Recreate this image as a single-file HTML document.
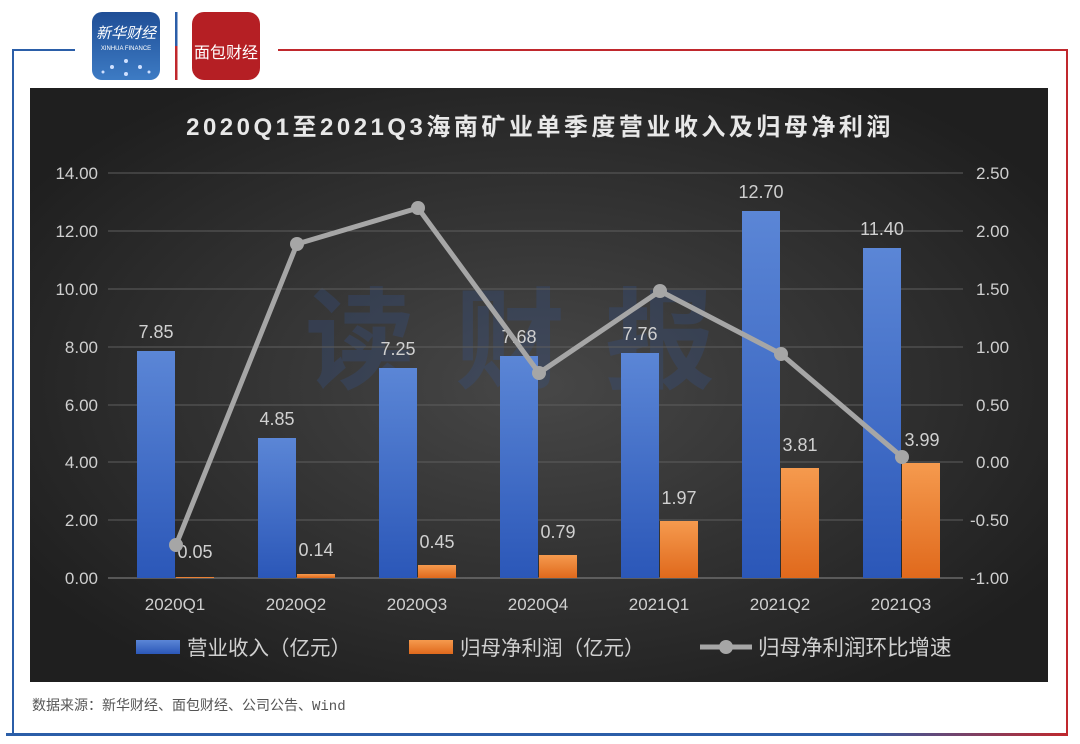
<!DOCTYPE html>
<html><head><meta charset="utf-8"><style>
body{margin:0;width:1080px;height:744px;background:#fff;overflow:hidden}
svg{display:block}
</style></head><body>
<svg width="1080" height="744" viewBox="0 0 1080 744" xmlns="http://www.w3.org/2000/svg" font-family="Liberation Sans, Noto Sans CJK SC, sans-serif">
<defs>
<radialGradient id="bg" cx="50%" cy="50%" r="60%"><stop offset="0" stop-color="#474747"/><stop offset="1" stop-color="#1f1f1f"/></radialGradient>
<linearGradient id="bb" x1="0" y1="0" x2="0" y2="1"><stop offset="0" stop-color="#5b86d6"/><stop offset="1" stop-color="#2b57b8"/></linearGradient>
<linearGradient id="ob" x1="0" y1="0" x2="0" y2="1"><stop offset="0" stop-color="#f59a4e"/><stop offset="1" stop-color="#e0691c"/></linearGradient>
<linearGradient id="bot" x1="0" x2="1"><stop offset="0" stop-color="#2b5ea8"/><stop offset="0.8" stop-color="#2b5ea8"/><stop offset="1" stop-color="#c0282d"/></linearGradient>
<linearGradient id="xh" x1="0" y1="0" x2="0" y2="1"><stop offset="0" stop-color="#1f4e96"/><stop offset="1" stop-color="#3d7bc4"/></linearGradient>
</defs>
<path d="M75 50 H13 V735" stroke="#2b5ea8" stroke-width="2" fill="none"/>
<path d="M278 50 H1067 V735" stroke="#c0282d" stroke-width="2" fill="none"/>
<rect x="6" y="733" width="1062" height="3" fill="url(#bot)"/>
<rect x="92" y="12" width="68" height="68" rx="10" fill="url(#xh)"/>
<text x="126" y="38" fill="#fff" font-size="15" text-anchor="middle" font-style="italic">新华财经</text>
<text x="126" y="50" fill="#fff" font-size="6" text-anchor="middle">XINHUA FINANCE</text>
<g fill="#cfe0ff"><circle cx="112" cy="67" r="2"/><circle cx="126" cy="61" r="2"/><circle cx="140" cy="67" r="2"/><circle cx="126" cy="74" r="2"/><circle cx="103" cy="72" r="1.5"/><circle cx="149" cy="72" r="1.5"/></g>
<rect x="175" y="12" width="2.5" height="68" fill="#2b5ea8"/><rect x="175" y="46" width="2.5" height="34" fill="#c0282d"/>
<rect x="192" y="12" width="68" height="68" rx="12" fill="#b51f24"/>
<text x="226" y="58" fill="#fff" font-size="16" text-anchor="middle">面包财经</text>
<rect x="30" y="88" width="1018" height="594" fill="url(#bg)"/>
<text x="540" y="135" fill="#e8e8e8" font-size="24" font-weight="bold" text-anchor="middle" letter-spacing="3.5">2020Q1至2021Q3海南矿业单季度营业收入及归母净利润</text>
<text x="530" y="380" fill="#34518a" opacity="0.3" font-size="110" font-weight="bold" text-anchor="middle" letter-spacing="40">读财报</text>
<g stroke="#5e5e5e" stroke-width="1">
<line x1="108" x2="963" y1="173" y2="173"/><line x1="108" x2="963" y1="231" y2="231"/><line x1="108" x2="963" y1="289" y2="289"/><line x1="108" x2="963" y1="347" y2="347"/><line x1="108" x2="963" y1="405" y2="405"/><line x1="108" x2="963" y1="462" y2="462"/><line x1="108" x2="963" y1="520" y2="520"/>
</g>
<line x1="108" x2="963" y1="578" y2="578" stroke="#8a8a8a"/>
<g fill="#cfcfcf" font-size="17" text-anchor="end">
<text x="98" y="179">14.00</text><text x="98" y="237">12.00</text><text x="98" y="295">10.00</text><text x="98" y="353">8.00</text><text x="98" y="411">6.00</text><text x="98" y="468">4.00</text><text x="98" y="526">2.00</text><text x="98" y="584">0.00</text>
</g>
<g fill="#cfcfcf" font-size="17" text-anchor="start">
<text x="976" y="179">2.50</text><text x="976" y="237">2.00</text><text x="976" y="295">1.50</text><text x="976" y="353">1.00</text><text x="976" y="411">0.50</text><text x="976" y="468">0.00</text><text x="970" y="526">-0.50</text><text x="970" y="584">-1.00</text>
</g>
<g fill="url(#bb)">
<rect x="137" y="351" width="38" height="227"/>
<rect x="258" y="438" width="38" height="140"/>
<rect x="379" y="368" width="38" height="210"/>
<rect x="500" y="356" width="38" height="222"/>
<rect x="621" y="353" width="38" height="225"/>
<rect x="742" y="211" width="38" height="367"/>
<rect x="863" y="248" width="38" height="330"/>
</g>
<g fill="url(#ob)">
<rect x="176" y="577" width="38" height="1"/>
<rect x="297" y="574" width="38" height="4"/>
<rect x="418" y="565" width="38" height="13"/>
<rect x="539" y="555" width="38" height="23"/>
<rect x="660" y="521" width="38" height="57"/>
<rect x="781" y="468" width="38" height="110"/>
<rect x="902" y="463" width="38" height="115"/>
</g>
<g fill="#d0d0d0" font-size="18" text-anchor="middle">
<text x="156" y="338">7.85</text><text x="277" y="425">4.85</text><text x="398" y="355">7.25</text><text x="519" y="343">7.68</text><text x="640" y="340">7.76</text><text x="761" y="198">12.70</text><text x="882" y="235">11.40</text>
<text x="195" y="558">0.05</text><text x="316" y="556">0.14</text><text x="437" y="548">0.45</text><text x="558" y="538">0.79</text><text x="679" y="504">1.97</text><text x="800" y="451">3.81</text><text x="922" y="446">3.99</text>
</g>
<polyline points="176,545 297,244 418,208 539,373 660,291 781,354 902,457" fill="none" stroke="#a6a6a6" stroke-width="5" stroke-linejoin="round"/>
<g fill="#a6a6a6"><circle cx="176" cy="545" r="7"/><circle cx="297" cy="244" r="7"/><circle cx="418" cy="208" r="7"/><circle cx="539" cy="373" r="7"/><circle cx="660" cy="291" r="7"/><circle cx="781" cy="354" r="7"/><circle cx="902" cy="457" r="7"/></g>
<g fill="#cfcfcf" font-size="17" text-anchor="middle">
<text x="175" y="610">2020Q1</text><text x="296" y="610">2020Q2</text><text x="417" y="610">2020Q3</text><text x="538" y="610">2020Q4</text><text x="659" y="610">2021Q1</text><text x="780" y="610">2021Q2</text><text x="901" y="610">2021Q3</text>
</g>
<rect x="136" y="640" width="44" height="14" fill="url(#bb)"/>
<text x="187" y="655" fill="#d0d0d0" font-size="20.5">营业收入（亿元）</text>
<rect x="409" y="640" width="44" height="14" fill="url(#ob)"/>
<text x="460" y="655" fill="#d0d0d0" font-size="20.5">归母净利润（亿元）</text>
<line x1="700" x2="752" y1="647" y2="647" stroke="#a6a6a6" stroke-width="5"/><circle cx="726" cy="647" r="7" fill="#a6a6a6"/>
<text x="758" y="655" fill="#d0d0d0" font-size="21.5">归母净利润环比增速</text>
<text x="32" y="710" fill="#555" font-size="14" font-family="Liberation Mono, Noto Sans CJK SC, monospace">数据来源：新华财经、面包财经、公司公告、Wind</text>
</svg>
</body></html>
